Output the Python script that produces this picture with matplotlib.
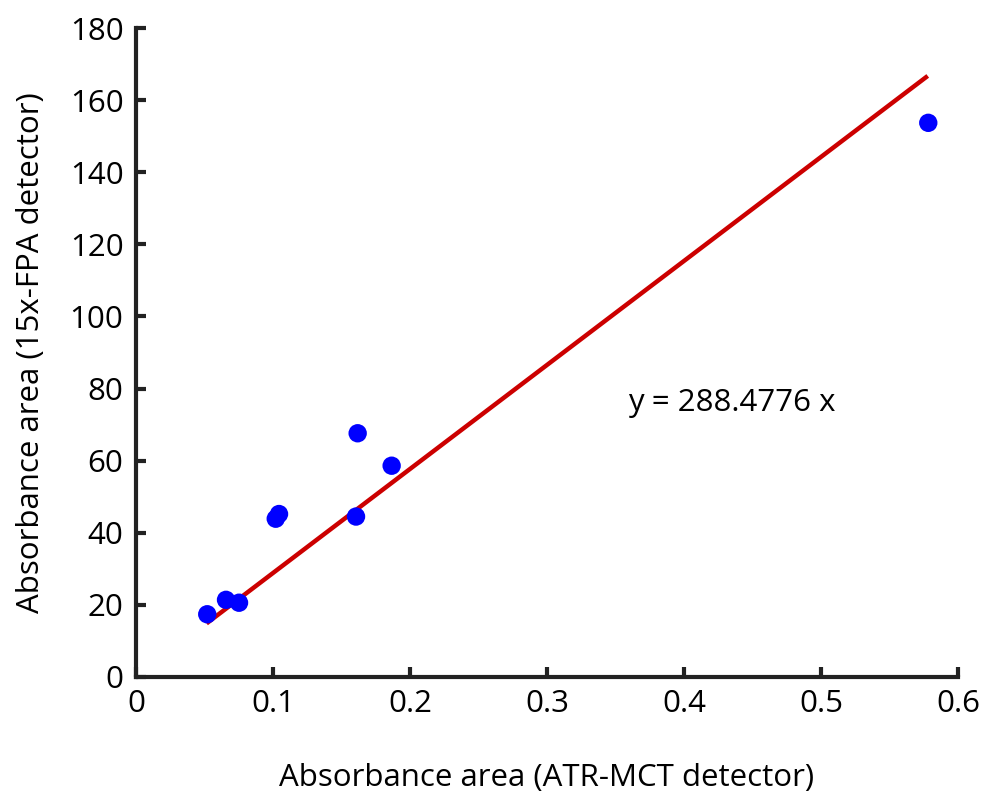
import matplotlib
matplotlib.use("Agg")
import matplotlib.pyplot as plt
import numpy as np

plt.rcParams['font.family'] = ['Open Sans', 'DejaVu Sans']

x_vals = [0.0520, 0.0657, 0.0752, 0.1020, 0.1044, 0.1606, 0.1618, 0.1866, 0.5783]
y_vals = [17.4, 21.4, 20.6, 43.9, 45.2, 44.5, 67.6, 58.6, 153.7]
slope = 288.4776
fit_x = [0.0515, 0.5779]
xticks = [0, 0.1, 0.2, 0.3, 0.4, 0.5, 0.6]
xtick_labels = ['0', '0.1', '0.2', '0.3', '0.4', '0.5', '0.6']
yticks = [0, 20, 40, 60, 80, 100, 120, 140, 160, 180]

fig = plt.figure(figsize=(9.82, 7.91), dpi=100)
ax = fig.add_axes([136/982, 1-677/791, (958-136)/982, (677-28)/791])

fx = np.array(fit_x)
ax.plot(fx, slope*fx, color='#cc0000', lw=3.2, solid_capstyle='butt', zorder=2)
ax.scatter(x_vals, y_vals, s=175, color='#0000ff', edgecolors='none', zorder=3)

ax.set_xlim(0, 0.6)
ax.set_ylim(0, 180)
ax.set_xticks(xticks)
ax.set_xticklabels(xtick_labels)
ax.set_yticks(yticks)
for s in ['top', 'right']:
    ax.spines[s].set_visible(False)
for s in ['left', 'bottom']:
    ax.spines[s].set_linewidth(3)
    ax.spines[s].set_color('#222222')
ax.tick_params(direction='in', length=7, width=3, color='#222222', labelsize=22.5, pad=9)

ax.text(0.359, 76, 'y = 288.4776 x', fontsize=22.5, va='center', ha='left')
ax.set_xlabel('Absorbance area (ATR-MCT detector)', fontsize=22.5, labelpad=31)
ax.set_ylabel('Absorbance area (15x-FPA detector)', fontsize=22.5, labelpad=17)

fig.savefig('out.png', dpi=100)
